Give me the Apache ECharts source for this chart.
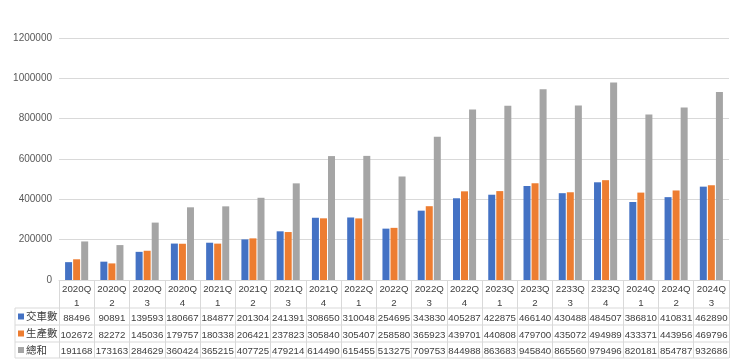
<!DOCTYPE html>
<html><head><meta charset="utf-8">
<script src="https://cdn.jsdelivr.net/npm/echarts@6/dist/echarts.min.js"></script>
<style>html,body{margin:0;padding:0;background:#fff}#c{width:740px;height:364px}</style>
</head><body><div id="c"></div>
<script>
const categories = ['2020Q1','2020Q2','2020Q3','2020Q4','2021Q1','2021Q2','2021Q3','2021Q4','2022Q1','2022Q2','2022Q3','2022Q4','2023Q1','2023Q2','2233Q3','2323Q4','2024Q1','2024Q2','2024Q3'];
const deliveries = [88496,90891,139593,180667,184877,201304,241391,308650,310048,254695,343830,405287,422875,466140,430488,484507,386810,410831,462890];
const production = [102672,82272,145036,179757,180338,206421,237823,305840,305407,258580,365923,439701,440808,479700,435072,494989,433371,443956,469796];
const totals = [191168,173163,284629,360424,365215,407725,479214,614490,615455,513275,709753,844988,863683,945840,865560,979496,820181,854787,932686];
const seriesNames = ['交車數','生產數','總和'];
const colors = ['#4472C4','#ED7D31','#A5A5A5'];
const yTicks = [0,200000,400000,600000,800000,1000000,1200000];

const font = '"Liberation Sans","Noto Sans CJK TC",sans-serif';
const cjk = '"Noto Sans CJK TC","Liberation Sans",sans-serif';
const G = {left:59, right:11, top:38, height:242};
const lineCol = '#d9d9d9';
const rowLines = [308, 325, 342, 358];

const chart = echarts.init(document.getElementById('c'));
const graphics = rowLines.map(y => ({type:'line', silent:true, shape:{x1:15,y1:y,x2:740-G.right,y2:y}, style:{stroke:lineCol,lineWidth:1}}));
graphics.push({type:'line', silent:true, shape:{x1:15,y1:rowLines[0],x2:15,y2:rowLines[3]}, style:{stroke:lineCol,lineWidth:1}});
seriesNames.forEach((n,i)=>{
  const cy = (rowLines[i]+rowLines[i+1])/2;
  graphics.push({type:'rect', silent:true, shape:{x:18,y:cy-3,width:6,height:6}, style:{fill:colors[i]}});
  graphics.push({type:'text', silent:true, x:26, y:cy, style:{text:n, fontFamily:cjk, fontSize:10.5, fill:'#404040', verticalAlign:'middle', align:'left'}});
});

chart.setOption({
  animation:false,
  color: colors,
  grid:{left:G.left,right:G.right,top:G.top,height:G.height,containLabel:false},
  xAxis:{
    type:'category', data:categories,
    axisLine:{lineStyle:{color:lineCol}},
    axisTick:{show:true,interval:0,alignWithLabel:false,length:78,lineStyle:{color:lineCol}},
    axisLabel:{
      interval:0, margin:2,
      formatter:(v,i)=>`{c|${v.slice(0,-1)}}\n{c|${v.slice(-1)}}\n{v|${deliveries[i]}}\n{v|${production[i]}}\n{v|${totals[i]}}`,
      rich:{
        c:{fontFamily:font,fontSize:9.7,color:'#404040',lineHeight:14},
        v:{fontFamily:font,fontSize:9.7,color:'#404040',lineHeight:16.7}
      }
    }
  },
  yAxis:{
    type:'value', min:yTicks[0], max:yTicks[yTicks.length-1], interval:200000,
    axisLine:{show:false}, axisTick:{show:false},
    splitLine:{lineStyle:{color:lineCol}},
    axisLabel:{margin:7,fontFamily:font,fontSize:10,color:'#595959',formatter:v=>String(v)}
  },
  graphic: graphics,
  series:[
    {name:seriesNames[0],type:'bar',data:deliveries,barWidth:7,barGap:'15%'},
    {name:seriesNames[1],type:'bar',data:production,barWidth:7,barGap:'15%'},
    {name:seriesNames[2],type:'bar',data:totals,barWidth:7,barGap:'15%'}
  ]
});
</script></body></html>
